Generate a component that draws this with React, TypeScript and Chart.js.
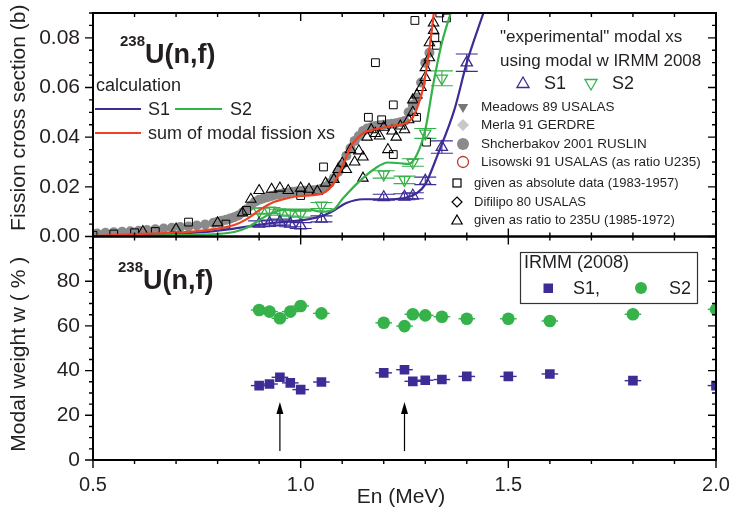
import React, { useEffect, useRef } from 'react';
import { Chart, registerables } from 'chart.js';
Chart.register(...registerables);

const FONT = '"Liberation Sans", Arial, Helvetica, sans-serif';
const PURPLE = '#3d2c96';
const GREEN = '#35b24a';
const RED = '#ef4123';
const GRAY = '#8a8a8a';
const INK = '#231f20';

// ---- axes / ticks ----
const xTickValues = [0.5, 1.0, 1.5, 2.0];
const xTickLabels = ['0.5', '1.0', '1.5', '2.0'];
const topTickValues = [0, 0.02, 0.04, 0.06, 0.08];
const topTickLabels = ['0.00', '0.02', '0.04', '0.06', '0.08'];
const botTickValues = [0, 20, 40, 60, 80];
const botTickLabels = ['0', '20', '40', '60', '80'];

// ---- calculation curves (top panel) ----
const calcSumE = [0.5, 0.58, 0.66, 0.74, 0.8, 0.84, 0.87, 0.9, 0.93, 0.97, 1.0, 1.04, 1.06, 1.08, 1.1, 1.12, 1.15, 1.18, 1.22, 1.25, 1.27, 1.285, 1.295, 1.305, 1.315, 1.322];
const calcSumV = [0.0002, 0.0008, 0.0013, 0.002, 0.0032, 0.0046, 0.007, 0.0105, 0.0135, 0.0155, 0.0163, 0.0168, 0.018, 0.0215, 0.028, 0.036, 0.0415, 0.0432, 0.0445, 0.0455, 0.048, 0.054, 0.06, 0.07, 0.082, 0.092];
const calcS1E = [0.5, 0.6, 0.7, 0.78, 0.84, 0.88, 0.92, 0.97, 1.02, 1.05, 1.08, 1.11, 1.15, 1.2, 1.25, 1.28, 1.3, 1.33, 1.37, 1.4, 1.44, 1.45];
const calcS1V = [0.0, 0.0005, 0.0012, 0.002, 0.0032, 0.0042, 0.0052, 0.006, 0.007, 0.0082, 0.0105, 0.0135, 0.015, 0.015, 0.0155, 0.0175, 0.021, 0.033, 0.051, 0.07, 0.09, 0.095];
const calcS2E = [0.5, 0.7, 0.8, 0.84, 0.87, 0.9, 0.93, 0.97, 1.02, 1.05, 1.08, 1.1, 1.14, 1.18, 1.21, 1.24, 1.26, 1.28, 1.3, 1.32, 1.34, 1.365];
const calcS2V = [0.0, 0.0006, 0.001, 0.0018, 0.0035, 0.0065, 0.0095, 0.0108, 0.0108, 0.01, 0.011, 0.015, 0.022, 0.0275, 0.0298, 0.0295, 0.0292, 0.033, 0.043, 0.062, 0.078, 0.092];

// ---- "experimental" modal xs ----
const expS1E = [0.9, 0.925, 0.95, 0.975, 1.0, 1.05, 1.2, 1.25, 1.27, 1.3, 1.34, 1.4];
const expS1V = [0.0051, 0.0054, 0.0058, 0.0051, 0.0044, 0.0071, 0.0158, 0.016, 0.0164, 0.0224, 0.036, 0.07];
const expS1Err = [0.0012, 0.0012, 0.0012, 0.0012, 0.0012, 0.0012, 0.0012, 0.0012, 0.0012, 0.0015, 0.0025, 0.0035];
const expS2E = [0.9, 0.925, 0.95, 0.975, 1.0, 1.05, 1.2, 1.25, 1.27, 1.3, 1.34];
const expS2V = [0.0102, 0.0105, 0.0098, 0.0094, 0.009, 0.0125, 0.025, 0.0228, 0.0298, 0.0415, 0.0637];
const expS2Err = [0.0012, 0.0012, 0.0012, 0.0012, 0.0012, 0.0012, 0.0015, 0.0015, 0.0015, 0.002, 0.003];

// ---- measured total fission xs ----
const shchE = [0.5, 0.51, 0.53, 0.55, 0.57, 0.59, 0.61, 0.63, 0.65, 0.67, 0.69, 0.71, 0.73, 0.75, 0.77, 0.79, 0.8, 0.81, 0.82, 0.83, 0.84, 0.85, 0.86, 0.87, 0.88, 0.89, 0.9, 0.91, 0.92, 0.93, 0.94, 0.95, 0.96, 0.97, 0.98, 0.99, 1.0, 1.01, 1.02, 1.03, 1.04, 1.05, 1.06, 1.07, 1.08, 1.09, 1.1, 1.11, 1.12, 1.13, 1.14, 1.15, 1.16, 1.17, 1.18, 1.19, 1.2, 1.21, 1.22, 1.23, 1.24, 1.25, 1.26, 1.27, 1.28, 1.29, 1.3, 1.31];
const shchV = [0.0008, 0.0012, 0.0015, 0.0017, 0.0019, 0.0021, 0.0023, 0.0026, 0.0029, 0.0032, 0.0035, 0.0038, 0.004, 0.0044, 0.0048, 0.0055, 0.0059, 0.0063, 0.0067, 0.0072, 0.0078, 0.0085, 0.0097, 0.011, 0.0125, 0.014, 0.0148, 0.0153, 0.0158, 0.0163, 0.0168, 0.0171, 0.0175, 0.0177, 0.018, 0.0181, 0.0183, 0.0184, 0.0185, 0.0186, 0.0187, 0.0192, 0.02, 0.0215, 0.0235, 0.026, 0.029, 0.0325, 0.0355, 0.0385, 0.0405, 0.0425, 0.0435, 0.044, 0.0445, 0.0448, 0.045, 0.0452, 0.0454, 0.0456, 0.046, 0.0465, 0.05, 0.053, 0.056, 0.062, 0.07, 0.074];
const ratioE = [0.62, 0.7, 0.8, 0.86, 0.88, 0.9, 0.93, 0.95, 0.97, 1.0, 1.02, 1.04, 1.06, 1.08, 1.09, 1.1, 1.11, 1.12, 1.13, 1.14, 1.15, 1.15, 1.16, 1.17, 1.18, 1.19, 1.2, 1.21, 1.22, 1.23, 1.24, 1.25, 1.26, 1.27, 1.27, 1.28, 1.29, 1.3, 1.3, 1.31, 1.31, 1.32, 1.32];
const ratioV = [0.002, 0.003, 0.0055, 0.0095, 0.015, 0.0185, 0.019, 0.0195, 0.0185, 0.0195, 0.019, 0.0182, 0.0215, 0.023, 0.027, 0.0295, 0.027, 0.035, 0.03, 0.0345, 0.0235, 0.032, 0.04, 0.043, 0.0415, 0.0405, 0.044, 0.035, 0.0425, 0.04, 0.0445, 0.043, 0.047, 0.05, 0.055, 0.057, 0.06, 0.064, 0.068, 0.072, 0.078, 0.083, 0.086];
const absE = [0.5, 0.55, 0.6, 0.65, 0.73, 0.82, 0.87, 1.0, 1.055, 1.163, 1.18, 1.195, 1.223, 1.223, 1.275, 1.279, 1.303, 1.323, 1.327, 1.335, 1.351];
const absV = [0.0005, 0.001, 0.0015, 0.002, 0.0058, 0.005, 0.0105, 0.0165, 0.028, 0.048, 0.07, 0.047, 0.053, 0.033, 0.087, 0.048, 0.038, 0.08, 0.077, 0.09, 0.088];

// ---- modal weights (bottom panel) ----
const wE = [0.9, 0.925, 0.95, 0.975, 1.0, 1.05, 1.2, 1.25, 1.27, 1.3, 1.34, 1.4, 1.5, 1.6, 1.8, 2.0];
const wS1 = [33.3, 34, 37, 34.5, 31.5, 34.9, 39, 40.4, 35.2, 35.7, 36, 37.4, 37.4, 38.5, 35.5, 33.3];
const wS2 = [67.1, 66.4, 63.4, 66.4, 68.9, 65.6, 61.4, 59.9, 65.2, 64.7, 64.1, 63.2, 63.2, 62.2, 65.2, 67.4];
const wErrE = [0.02, 0.02, 0.02, 0.02, 0.02, 0.02, 0.02, 0.02, 0.02, 0.02, 0.02, 0.02, 0.02, 0.02, 0.02, 0.02];
const arrowE = [0.95, 1.25];
const arrowFromW = 4;
const arrowToW = 26;

const pts = (xs: number[], ys: number[]) => xs.map((x, i) => ({ x, y: ys[i] }));

function pickLabel(vals: number[], labels: string[], v: number) {
  const i = vals.findIndex((t) => Math.abs(t - v) < 1e-7);
  return i >= 0 ? labels[i] : '';
}

function triPath(ctx: CanvasRenderingContext2D, x: number, y: number, r: number, down: boolean) {
  const s = down ? -1 : 1;
  ctx.beginPath();
  ctx.moveTo(x, y - s * r);
  ctx.lineTo(x + r * 0.866, y + s * r * 0.5);
  ctx.lineTo(x - r * 0.866, y + s * r * 0.5);
  ctx.closePath();
}

const decor = {
  id: 'decor',
  beforeDatasetsDraw(chart: any) {
    const ctx: CanvasRenderingContext2D = chart.ctx;
    const xs = chart.scales.x, ya = chart.scales.y, yb = chart.scales.y2;
    ctx.save();
    ctx.beginPath();
    ctx.rect(chart.chartArea.left, chart.chartArea.top, chart.chartArea.right - chart.chartArea.left, chart.chartArea.bottom - chart.chartArea.top);
    ctx.clip();
    const vbars = (E: number[], V: number[], Er: number[], col: string) => {
      ctx.strokeStyle = col;
      ctx.lineWidth = 1.1;
      E.forEach((e, i) => {
        const px = xs.getPixelForValue(e);
        const y1 = ya.getPixelForValue(V[i] - Er[i]);
        const y2 = ya.getPixelForValue(V[i] + Er[i]);
        ctx.beginPath();
        ctx.moveTo(px, y1); ctx.lineTo(px, y2);
        ctx.moveTo(px - 11, y1); ctx.lineTo(px + 11, y1);
        ctx.moveTo(px - 11, y2); ctx.lineTo(px + 11, y2);
        ctx.stroke();
      });
    };
    vbars(expS1E, expS1V, expS1Err, PURPLE);
    vbars(expS2E, expS2V, expS2Err, GREEN);
    const hbars = (V: number[], col: string) => {
      ctx.strokeStyle = col;
      ctx.lineWidth = 1.4;
      wE.forEach((e, i) => {
        const py = yb.getPixelForValue(V[i]);
        ctx.beginPath();
        ctx.moveTo(xs.getPixelForValue(e - wErrE[i]), py);
        ctx.lineTo(xs.getPixelForValue(e + wErrE[i]), py);
        ctx.stroke();
      });
    };
    hbars(wS1, PURPLE);
    hbars(wS2, GREEN);
    ctx.restore();
  },
  afterDraw(chart: any) {
    const ctx: CanvasRenderingContext2D = chart.ctx;
    const xs = chart.scales.x, ya = chart.scales.y, yb = chart.scales.y2;
    const L = chart.chartArea.left, R = chart.chartArea.right;
    ctx.save();
    ctx.strokeStyle = '#000';
    // frames
    ctx.lineWidth = 2;
    [ya, yb].forEach((s: any) => ctx.strokeRect(L, s.top, R - L, s.bottom - s.top));
    ctx.lineWidth = 1.4;
    ctx.beginPath();
    // x ticks
    for (let k = 0; k <= 15; k++) {
      const e = 0.5 + k * 0.1;
      const px = xs.getPixelForValue(e);
      const len = k % 5 === 0 ? 8 : 4;
      ctx.moveTo(px, yb.bottom); ctx.lineTo(px, yb.bottom + len);
      ctx.moveTo(px, yb.top); ctx.lineTo(px, yb.top + len);
      ctx.moveTo(px, ya.bottom); ctx.lineTo(px, ya.bottom - len);
      ctx.moveTo(px, ya.top); ctx.lineTo(px, ya.top + len);
    }
    // y ticks
    for (let k = 0; k <= 18; k++) {
      const py = ya.getPixelForValue(k * 0.005);
      const len = k % 4 === 0 ? 8 : 4;
      ctx.moveTo(L - len, py); ctx.lineTo(L, py);
      ctx.moveTo(R - len, py); ctx.lineTo(R, py);
    }
    for (let k = 0; k <= 20; k++) {
      const py = yb.getPixelForValue(k * 5);
      const len = k % 4 === 0 ? 8 : 4;
      ctx.moveTo(L - len, py); ctx.lineTo(L, py);
      ctx.moveTo(R - len, py); ctx.lineTo(R, py);
    }
    ctx.stroke();

    // arrows
    ctx.lineWidth = 1.2;
    ctx.fillStyle = '#000';
    arrowE.forEach((e) => {
      const px = xs.getPixelForValue(e);
      const y0 = yb.getPixelForValue(arrowFromW);
      const y1 = yb.getPixelForValue(arrowToW);
      ctx.beginPath(); ctx.moveTo(px, y0); ctx.lineTo(px, y1 + 8); ctx.stroke();
      ctx.beginPath(); ctx.moveTo(px, y1); ctx.lineTo(px - 3.5, y1 + 12); ctx.lineTo(px + 3.5, y1 + 12); ctx.closePath(); ctx.fill();
    });

    // axis titles
    ctx.fillStyle = INK;
    ctx.textAlign = 'center';
    ctx.textBaseline = 'alphabetic';
    ctx.font = `21px ${FONT}`;
    ctx.fillText('En (MeV)', 401, 503);
    ctx.save();
    ctx.translate(25, (ya.top + ya.bottom) / 2 - 7);
    ctx.rotate(-Math.PI / 2);
    ctx.fillText('Fission cross section (b)', 0, 0);
    ctx.restore();
    ctx.save();
    ctx.translate(25, (yb.top + yb.bottom) / 2 + 6);
    ctx.rotate(-Math.PI / 2);
    ctx.fillText('Modal weight w ( % )', 0, 0);
    ctx.restore();

    // panel titles
    ctx.textAlign = 'left';
    const title = (x: number, yb0: number) => {
      ctx.font = `bold 15px ${FONT}`;
      ctx.fillText('238', x, yb0 - 17);
      ctx.font = `bold 27px ${FONT}`;
      ctx.fillText('U(n,f)', x + 25, yb0);
    };
    title(120, 63);
    title(118, 289);

    // calculation legend
    ctx.font = `18px ${FONT}`;
    ctx.textBaseline = 'middle';
    ctx.fillText('calculation', 96, 86);
    ctx.lineWidth = 2.2;
    const seg = (x0: number, x1: number, y: number, col: string) => {
      ctx.strokeStyle = col; ctx.beginPath(); ctx.moveTo(x0, y); ctx.lineTo(x1, y); ctx.stroke();
    };
    seg(95, 141, 109, PURPLE);
    ctx.fillText('S1', 148, 110);
    seg(175, 222, 109, GREEN);
    ctx.fillText('S2', 230, 110);
    seg(95, 141, 133, RED);
    ctx.fillText('sum of modal fission xs', 148, 134);

    // experimental legend (top right)
    ctx.font = `17px ${FONT}`;
    ctx.fillText('"experimental" modal xs', 500, 37);
    ctx.fillText('using modal w IRMM 2008', 500, 61);
    ctx.lineWidth = 1.3;
    ctx.strokeStyle = PURPLE;
    triPath(ctx, 523, 84, 7, false); ctx.stroke();
    ctx.strokeStyle = GREEN;
    triPath(ctx, 591, 83, 7, true); ctx.stroke();
    ctx.font = `18px ${FONT}`;
    ctx.fillText('S1', 544, 84);
    ctx.fillText('S2', 612, 84);

    // data source legend
    ctx.font = `13.5px ${FONT}`;
    ctx.fillStyle = '#777';
    triPath(ctx, 463, 107, 6, true); ctx.fill();
    ctx.fillStyle = '#c8c8c8';
    ctx.beginPath(); ctx.moveTo(463, 119); ctx.lineTo(469, 125); ctx.lineTo(463, 131); ctx.lineTo(457, 125); ctx.closePath(); ctx.fill();
    ctx.fillStyle = GRAY;
    ctx.beginPath(); ctx.arc(463, 144, 6, 0, Math.PI * 2); ctx.fill();
    ctx.strokeStyle = '#c0392b'; ctx.lineWidth = 1.3;
    ctx.beginPath(); ctx.arc(463, 162, 5.5, 0, Math.PI * 2); ctx.stroke();
    ctx.fillStyle = INK;
    ctx.fillText('Meadows 89 USALAS', 481, 107);
    ctx.fillText('Merla 91 GERDRE', 481, 125);
    ctx.fillText('Shcherbakov 2001 RUSLIN', 481, 144);
    ctx.fillText('Lisowski 91 USALAS (as ratio U235)', 481, 162);
    ctx.strokeStyle = '#000'; ctx.lineWidth = 1.2;
    ctx.strokeRect(453, 179, 8, 8);
    ctx.beginPath(); ctx.moveTo(457, 197); ctx.lineTo(462, 202); ctx.lineTo(457, 207); ctx.lineTo(452, 202); ctx.closePath(); ctx.stroke();
    triPath(ctx, 457, 221, 6, false); ctx.stroke();
    ctx.font = `13px ${FONT}`;
    ctx.fillText('given as absolute data (1983-1957)', 474, 183);
    ctx.fillText('Difilipo 80 USALAS', 474, 202);
    ctx.fillText('given as ratio to 235U (1985-1972)', 474, 220);

    // bottom legend box
    ctx.strokeStyle = '#333'; ctx.lineWidth = 1.2;
    ctx.strokeRect(520.5, 252.5, 177, 51);
    ctx.font = `18px ${FONT}`;
    ctx.fillStyle = INK;
    ctx.fillText('IRMM (2008)', 524, 263);
    ctx.fillText('S1,', 573, 289);
    ctx.fillText('S2', 669, 289);
    ctx.fillStyle = PURPLE;
    ctx.fillRect(543.5, 283.5, 9.5, 9.5);
    ctx.fillStyle = GREEN;
    ctx.beginPath(); ctx.arc(641, 288, 6, 0, Math.PI * 2); ctx.fill();
    ctx.restore();
  },
};

export default function App() {
  const ref = useRef<HTMLCanvasElement | null>(null);
  useEffect(() => {
    document.body.style.margin = '0';
    const canvas = ref.current;
    if (!canvas) return;
    const line = (lab: string, E: number[], V: number[], col: string) => ({
      label: lab, data: pts(E, V), showLine: true, borderColor: col, borderWidth: 2.2,
      pointRadius: 0, cubicInterpolationMode: 'monotone', fill: false, yAxisID: 'y',
    });
    const fitY = (s: any) => { s.width = 93; s.paddingTop = 0; s.paddingBottom = 0; };
    const chart = new Chart(canvas, {
      type: 'scatter',
      data: {
        datasets: [
          line('sum of modal fission xs', calcSumE, calcSumV, RED),
          line('S2 calc', calcS2E, calcS2V, GREEN),
          line('S1 calc', calcS1E, calcS1V, PURPLE),
          { label: 'S1 exp', data: pts(expS1E, expS1V), pointStyle: 'triangle', pointRadius: 6.5, borderColor: PURPLE, backgroundColor: 'rgba(0,0,0,0)', borderWidth: 1.3, yAxisID: 'y' },
          { label: 'S2 exp', data: pts(expS2E, expS2V), pointStyle: 'triangle', rotation: 180, pointRadius: 6.5, borderColor: GREEN, backgroundColor: 'rgba(0,0,0,0)', borderWidth: 1.3, yAxisID: 'y' },
          { label: 'absolute', data: pts(absE, absV), pointStyle: 'rect', pointRadius: 5.5, borderColor: '#000', backgroundColor: 'rgba(255,255,255,0)', borderWidth: 1, yAxisID: 'y' },
          { label: 'ratio', data: pts(ratioE, ratioV), pointStyle: 'triangle', pointRadius: 6, borderColor: '#000', backgroundColor: 'rgba(255,255,255,0)', borderWidth: 1.1, yAxisID: 'y' },
          { label: 'Shcherbakov', data: pts(shchE, shchV), pointStyle: 'circle', pointRadius: 5, borderColor: GRAY, backgroundColor: GRAY, borderWidth: 0, yAxisID: 'y' },
          { label: 'w S1', data: pts(wE, wS1), pointStyle: 'rect', pointRadius: 6.8, borderColor: PURPLE, backgroundColor: PURPLE, borderWidth: 0, yAxisID: 'y2' },
          { label: 'w S2', data: pts(wE, wS2), pointStyle: 'circle', pointRadius: 6.3, borderColor: GREEN, backgroundColor: GREEN, borderWidth: 0, yAxisID: 'y2' },
        ] as any,
      },
      options: {
        animation: false,
        responsive: false,
        devicePixelRatio: 1,
        layout: { padding: { left: 0, right: 15, top: 13, bottom: 0 } },
        plugins: { legend: { display: false }, tooltip: { enabled: false } },
        scales: {
          x: {
            type: 'linear', min: 0.5, max: 2.0,
            ticks: { stepSize: 0.5, autoSkip: false, maxRotation: 0, padding: 13, color: INK, font: { family: FONT, size: 20 },
              callback: (v: any) => pickLabel(xTickValues, xTickLabels, Number(v)) },
            grid: { display: false, drawTicks: false }, border: { display: false },
            afterFit: (s: any) => { s.height = 48; s.paddingLeft = 0; s.paddingRight = 0; },
          },
          y2: {
            type: 'linear', position: 'left', stack: 'v', stackWeight: 1, min: 0, max: 100,
            ticks: { stepSize: 20, autoSkip: false, padding: 13, color: INK, font: { family: FONT, size: 21 },
              callback: (v: any) => pickLabel(botTickValues, botTickLabels, Number(v)) },
            grid: { display: false, drawTicks: false }, border: { display: false },
            afterFit: fitY,
          },
          y: {
            type: 'linear', position: 'left', stack: 'v', stackWeight: 1, min: 0, max: 0.09,
            ticks: { stepSize: 0.01, autoSkip: false, padding: 13, color: INK, font: { family: FONT, size: 21 },
              callback: (v: any) => pickLabel(topTickValues, topTickLabels, Number(v)) },
            grid: { display: false, drawTicks: false }, border: { display: false },
            afterFit: fitY,
          },
        },
      } as any,
      plugins: [decor],
    });
    return () => chart.destroy();
  }, []);
  return <canvas ref={ref} width={731} height={508} style={{ display: 'block', width: 731, height: 508 }} />;
}
